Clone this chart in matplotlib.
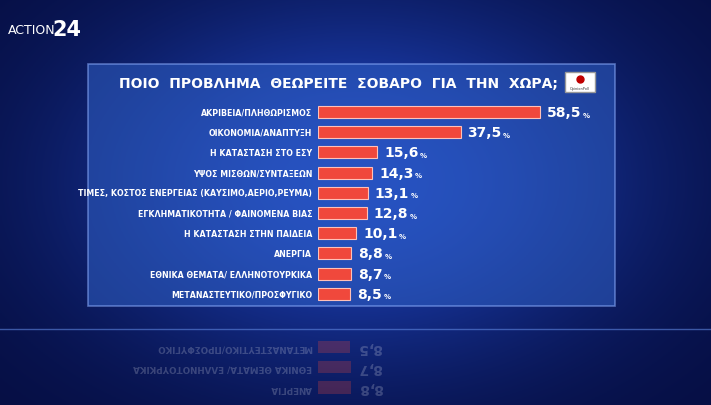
import numpy as np
import matplotlib.pyplot as plt
from matplotlib.patches import Rectangle

labels = ['ΑΚΡΙΒΕΙΑ/ΠΛΗΘΩΡΙΣΜΟΣ', 'ΟΙΚΟΝΟΜΙΑ/ΑΝΑΠΤΥΞΗ', 'Η ΚΑΤΑΣΤΑΣΗ ΣΤΟ ΕΣΥ',
          'ΥΨΟΣ ΜΙΣΘΩΝ/ΣΥΝΤΑΞΕΩΝ', 'ΤΙΜΕΣ, ΚΟΣΤΟΣ ΕΝΕΡΓΕΙΑΣ (ΚΑΥΣΙΜΟ,ΑΕΡΙΟ,ΡΕΥΜΑ)',
          'ΕΓΚΛΗΜΑΤΙΚΟΤΗΤΑ / ΦΑΙΝΟΜΕΝΑ ΒΙΑΣ', 'Η ΚΑΤΑΣΤΑΣΗ ΣΤΗΝ ΠΑΙΔΕΙΑ', 'ΑΝΕΡΓΙΑ',
          'ΕΘΝΙΚΑ ΘΕΜΑΤΑ/ ΕΛΛΗΝΟΤΟΥΡΚΙΚΑ', 'ΜΕΤΑΝΑΣΤΕΥΤΙΚΟ/ΠΡΟΣΦΥΓΙΚΟ']
values = [58.5, 37.5, 15.6, 14.3, 13.1, 12.8, 10.1, 8.8, 8.7, 8.5]
title = 'ΠΟΙΟ  ΠΡΟΒΛΗΜΑ  ΘΕΩΡΕΙΤΕ  ΣΟΒΑΡΟ  ΓΙΑ  ΤΗΝ  ΧΩΡΑ;'

W, H = 711, 406
fam = ['DejaVu Sans']
fig = plt.figure(figsize=(W / 100, H / 100), dpi=100)

# background gradient
bg = fig.add_axes([0, 0, 1, 1])
yy, xx = np.mgrid[0:1:200j, 0:1:300j]
glow = np.exp(-((xx - 0.5) ** 2 / 0.15 + (yy - 0.45) ** 2 / 0.2))
r = 0.02 + 0.10 * glow
g = 0.05 + 0.22 * glow
b = 0.25 + 0.50 * glow
bg.imshow(np.dstack([r, g, b]).clip(0, 1), extent=[0, W, H, 0], aspect='auto')
bg.set_xlim(0, W)
bg.set_ylim(H, 0)
bg.axis('off')
bg.add_patch(Rectangle((88, 65), 527, 242, facecolor='#2f5fc4', alpha=0.55,
                       edgecolor='#8fb0ff', linewidth=1.2))
bg.plot([0, W], [330, 330], color='#5f86e0', lw=1, alpha=0.6)
bg.text(8, 30, 'ACTION', color='white', fontsize=9, va='center', family=fam)
bg.text(52, 30, '24', color='white', fontsize=15, va='center', weight='bold', family=fam)
bg.text(338, 84, title, color='white', fontsize=10, weight='bold', ha='center',
        va='center', family=fam)
bg.add_patch(Rectangle((565, 73), 30, 20, facecolor='white', edgecolor='#999999'))
bg.plot([580], [80], 'o', color='#c00000', ms=5)
bg.text(580, 89, 'OpinionPoll', fontsize=2.5, ha='center', va='center', color='#333333')

n = len(values)
row = 20.2
x0, scale = 318, 3.8
top = 113 - row / 2
ax = fig.add_axes([x0 / W, 1 - (top + n * row) / H, 70 * scale / W, n * row / H])
ax.set_xlim(0, 70)
ax.set_ylim(n - 0.5, -0.5)
ax.axis('off')
ypos = np.arange(n)
ax.barh(ypos, values, height=0.6, color='#f0483c', edgecolor='#ffc0b8', linewidth=0.8)
fig.canvas.draw()
ren = fig.canvas.get_renderer()
for y, v, lab in zip(ypos, values, labels):
    ax.text(-1.5, y, lab, ha='right', va='center', color='white', fontsize=6.3,
            weight='bold', family=fam, fontstretch='condensed')
    t = ax.text(v + 1.8, y, f'{v:.1f}'.replace('.', ','), ha='left', va='center',
                color='white', fontsize=10, weight='bold', family=fam)
    bb = t.get_window_extent(ren)
    ax.annotate('%', xy=(bb.x1, bb.y0), xycoords='figure pixels', xytext=(1, 1),
                textcoords='offset points', ha='left', va='bottom', color='white',
                fontsize=5, weight='bold')

# faint reflection (last rows mirrored below the panel)
rx = fig.add_axes([x0 / W, 1 - (338 + 3 * row) / H, 70 * scale / W, 3 * row / H])
rx.set_xlim(0, 70)
rx.set_ylim(2.5, -0.5)
rx.axis('off')
rv = values[::-1][:3]
rl = labels[::-1][:3]
rx.barh(np.arange(3), rv, height=0.6, color='#f0483c', alpha=0.25)
for y, v, lab in zip(range(3), rv, rl):
    rx.text(-1.5, y, lab, ha='left', va='center', color='white', alpha=0.2,
            fontsize=6.3, weight='bold', family=fam, rotation=180, rotation_mode='anchor')
    rx.text(v + 1.8, y, f'{v:.1f}'.replace('.', ','), ha='right', va='center',
            color='white', alpha=0.2, fontsize=10, weight='bold', rotation=180,
            rotation_mode='anchor')

fig.savefig('out.png', dpi=100)
